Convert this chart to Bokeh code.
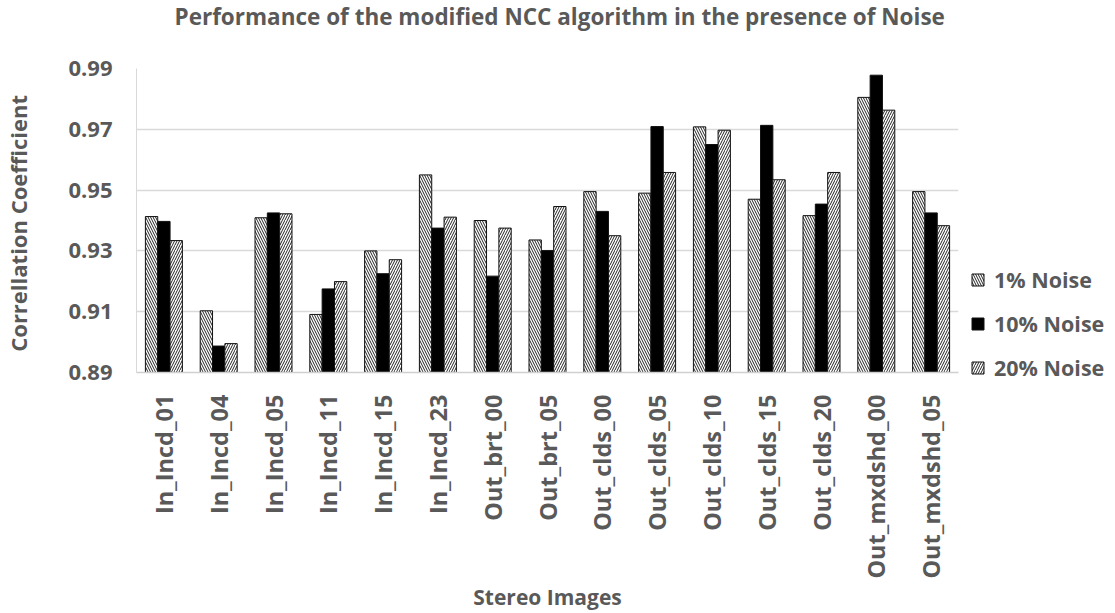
from bokeh.plotting import figure
from bokeh.models import ColumnDataSource, FactorRange, Range1d, FixedTicker, Legend, LegendItem, Title
from bokeh.transform import dodge
from bokeh.embed import file_html
from bokeh.resources import INLINE
import math

categories = ["In_Incd_01", "In_Incd_04", "In_Incd_05", "In_Incd_11", "In_Incd_15",
              "In_Incd_23", "Out_brt_00", "Out_brt_05", "Out_clds_00", "Out_clds_05",
              "Out_clds_10", "Out_clds_15", "Out_clds_20", "Out_mxdshd_00", "Out_mxdshd_05"]
noise_1 = [0.9413, 0.9103, 0.9409, 0.9091, 0.9300, 0.9550, 0.9400, 0.9336, 0.9495, 0.9490,
           0.9708, 0.9470, 0.9416, 0.9805, 0.9495]
noise_10 = [0.9397, 0.8987, 0.9425, 0.9175, 0.9225, 0.9375, 0.9217, 0.9301, 0.9430, 0.9709,
            0.9650, 0.9713, 0.9454, 0.9878, 0.9425]
noise_20 = [0.9334, 0.8995, 0.9422, 0.9199, 0.9271, 0.9411, 0.9375, 0.9446, 0.9350, 0.9558,
            0.9697, 0.9534, 0.9558, 0.9763, 0.9383]
series_names = ["1% Noise", "10% Noise", "20% Noise"]
y_ticks = [0.89, 0.91, 0.93, 0.95, 0.97, 0.99]
title_text = "Performance of the modified NCC algorithm in the presence of Noise"

FONT = "Open Sans"
GREY = "#595959"

src = ColumnDataSource(dict(cat=categories, n1=noise_1, n10=noise_10, n20=noise_20))

p = figure(x_range=FactorRange(*categories), y_range=Range1d(0.89, 0.99), title=None,
           frame_width=822, frame_height=304, output_backend="svg", toolbar_location=None,
           min_border_left=135, min_border_right=0, min_border_top=68, min_border_bottom=0)

spacer = Title(text=" ", text_font_size="1px", standoff=32)
p.add_layout(spacer, "above")
main_title = Title(text=title_text, align="left", offset=38, vertical_align="top",
                   standoff=0, text_font=FONT, text_font_size="22.5px",
                   text_color=GREY, text_font_style="bold")
p.add_layout(main_title, "above")

bw = 0.225
r1 = p.vbar(x=dodge("cat", -bw, range=p.x_range), top="n1", bottom=0.89, width=bw, source=src,
            fill_color="white", line_color="#111111", line_width=1,
            hatch_pattern="\\", hatch_color="#222222", hatch_scale=5, hatch_weight=1)
r2 = p.vbar(x=dodge("cat", 0, range=p.x_range), top="n10", bottom=0.89, width=bw, source=src,
            fill_color="black", line_color="#111111", line_width=1)
r3 = p.vbar(x=dodge("cat", bw, range=p.x_range), top="n20", bottom=0.89, width=bw, source=src,
            fill_color="white", line_color="#111111", line_width=1,
            hatch_pattern="/", hatch_color="#222222", hatch_scale=5, hatch_weight=1)

legend = Legend(items=[LegendItem(label=series_names[0], renderers=[r1]),
                       LegendItem(label=series_names[1], renderers=[r2]),
                       LegendItem(label=series_names[2], renderers=[r3])],
                location=(12, -10))
legend.label_text_font = FONT
legend.label_text_font_size = "21.5px"
legend.label_text_font_style = "bold"
legend.label_text_color = GREY
legend.glyph_width = 15
legend.glyph_height = 15
legend.spacing = 15
legend.padding = 0
legend.margin = 0
legend.border_line_color = None
legend.background_fill_alpha = 0
legend.label_standoff = 9
p.add_layout(legend, "right")

p.outline_line_color = None
p.xgrid.grid_line_color = None
p.ygrid.grid_line_color = "#d9d9d9"
p.ygrid.grid_line_width = 1.5

p.yaxis.ticker = FixedTicker(ticks=y_ticks)
p.yaxis.formatter.use_scientific = False
p.yaxis.axis_line_color = "#d9d9d9"
p.yaxis.major_tick_line_color = None
p.yaxis.minor_tick_line_color = None
p.yaxis.major_label_standoff = 18
p.yaxis.major_label_text_font = FONT
p.yaxis.major_label_text_font_size = "22px"
p.yaxis.major_label_text_font_style = "bold"
p.yaxis.major_label_text_color = GREY
p.yaxis.axis_label = "Correllation  Coefficient"
p.yaxis.axis_label_text_font = FONT
p.yaxis.axis_label_text_font_size = "22px"
p.yaxis.axis_label_text_font_style = "bold"
p.yaxis.axis_label_text_color = GREY
p.yaxis.axis_label_standoff = 32

p.xaxis.axis_line_color = "#d0d0d0"
p.xaxis.axis_line_width = 1.5
p.xaxis.major_tick_line_color = None
p.xaxis.minor_tick_line_color = None
p.xaxis.major_label_orientation = math.pi / 2
p.xaxis.major_label_standoff = 16
p.xaxis.major_label_text_font = FONT
p.xaxis.major_label_text_font_size = "23.5px"
p.xaxis.major_label_text_font_style = "bold"
p.xaxis.major_label_text_color = GREY
p.xaxis.axis_label = "Stereo Images"
p.xaxis.axis_label_text_font = FONT
p.xaxis.axis_label_text_font_size = "21px"
p.xaxis.axis_label_text_font_style = "bold"
p.xaxis.axis_label_text_color = GREY
p.xaxis.axis_label_standoff = 1

open("out.html", "w").write(file_html(p, INLINE))
